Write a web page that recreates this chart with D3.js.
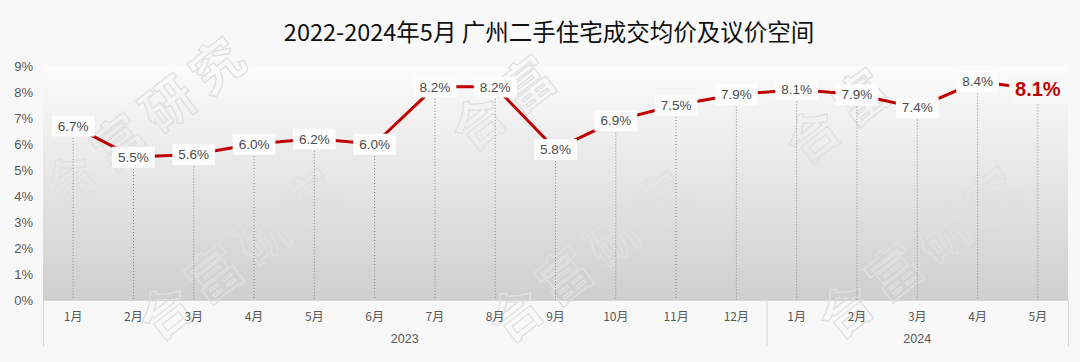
<!DOCTYPE html>
<html lang="zh">
<head>
<meta charset="UTF-8">
<title>广州二手住宅成交均价及议价空间</title>
<script src="https://d3js.org/d3.v7.min.js"></script>
<style>
    body { margin: 0; background: #f8f8f8; font-family: "Noto Sans CJK SC", "Liberation Sans", sans-serif; }
    svg { display: block; }
</style>
</head>
<body>
<svg id="chart" width="1080" height="362"></svg>
<script>
// data
var months = ["1月","2月","3月","4月","5月","6月","7月","8月","9月","10月","11月","12月","1月","2月","3月","4月","5月"];
var years = ["2023","2023","2023","2023","2023","2023","2023","2023","2023","2023","2023","2023","2024","2024","2024","2024","2024"];
var values = [6.7, 5.5, 5.6, 6.0, 6.2, 6.0, 8.2, 8.2, 5.8, 6.9, 7.5, 7.9, 8.1, 7.9, 7.4, 8.4, 8.1];
var yTicks = [0,1,2,3,4,5,6,7,8,9];
var title = "2022-2024年5月  广州二手住宅成交均价及议价空间";
var watermark = "合富研究";

var svg = d3.select("#chart");
var margin = { top: 66, right: 12, bottom: 62, left: 43 },
    width = 1080 - margin.left - margin.right,
    height = 362 - margin.top - margin.bottom;

var idx = d3.range(values.length);
var x = d3.scaleBand().domain(idx).range([0, width]);
var y = d3.scaleLinear().domain([0, 9]).range([height, 0]);
var cx = function(i) { return x(i) + x.bandwidth() / 2; };

var defs = svg.append("defs");
var grad = defs.append("linearGradient").attr("id", "fade")
    .attr("x1", 0).attr("y1", 0).attr("x2", 0).attr("y2", 1);
grad.append("stop").attr("offset", "0%").attr("stop-color", "#fbfbfb");
grad.append("stop").attr("offset", "100%").attr("stop-color", "#cfcfcf");

svg.append("text")
    .attr("x", 549).attr("y", 41)
    .attr("text-anchor", "middle")
    .attr("font-size", 23.5)
    .attr("fill", "#111")
    .text(title);

// plot background
var bg = svg.append("g").attr("transform", "translate(" + margin.left + "," + margin.top + ")");
bg.append("rect")
    .attr("x", 0).attr("y", 0)
    .attr("width", width).attr("height", height)
    .attr("fill", "url(#fade)");

// watermark, positioned by centre of the first glyph (page coords)
var wm = svg.append("g").attr("fill", "none").attr("stroke", "#e0e0e0").attr("stroke-width", 1.3)
    .attr("font-size", 52).attr("font-weight", "bold").attr("letter-spacing", 10);
[[70, 180, 4], [165, 312, 4], [478, 122, 2], [515, 314, 4], [812, 135, 2], [845, 310, 4]].forEach(function(p) {
    wm.append("text")
        .attr("transform", "translate(" + p[0] + "," + p[1] + ") rotate(-38)")
        .attr("x", -26).attr("dy", "0.38em")
        .text(watermark.slice(0, p[2]));
});

var marks = svg.append("g").attr("transform", "translate(" + margin.left + "," + margin.top + ")");

// drop lines
marks.selectAll(".drop").data(idx).enter().append("line")
    .attr("x1", cx).attr("x2", cx)
    .attr("y1", function(i) { return y(values[i]); })
    .attr("y2", height)
    .attr("stroke", "#8a8a8a").attr("stroke-width", 1).attr("stroke-dasharray", "1,2");

// line
marks.append("path")
    .datum(idx)
    .attr("fill", "none")
    .attr("stroke", "#c00000")
    .attr("stroke-width", 3)
    .attr("d", d3.line().x(cx).y(function(i) { return y(values[i]); }));

// y axis labels
marks.selectAll(".ytick").data(yTicks).enter().append("text")
    .attr("x", -10).attr("y", function(d) { return y(d); })
    .attr("dy", "0.35em")
    .attr("text-anchor", "end")
    .attr("font-size", 13)
    .attr("fill", "#595959")
    .attr("font-family", "Liberation Sans, sans-serif")
    .text(function(d) { return d + "%"; });

// bottom axis frame
var ax = marks.append("g").attr("stroke", "#d6d6d6").attr("stroke-width", 1);
ax.append("line").attr("x1", 0).attr("x2", width).attr("y1", height + 0.5).attr("y2", height + 0.5);
var yearStarts = idx.filter(function(i) { return i === 0 || years[i] !== years[i - 1]; });
yearStarts.concat([values.length]).forEach(function(i) {
    var xx = i < values.length ? x(i) : width;
    ax.append("line").attr("x1", xx + 0.5).attr("x2", xx + 0.5).attr("y1", height).attr("y2", height + 46);
});

marks.selectAll(".mlab").data(idx).enter().append("text")
    .attr("x", cx).attr("y", height + 21)
    .attr("text-anchor", "middle")
    .attr("font-size", 12)
    .attr("fill", "#595959")
    .text(function(i) { return months[i]; });

var yearGroups = d3.groups(idx, function(i) { return years[i]; });
yearGroups.forEach(function(gp) {
    var first = gp[1][0], last = gp[1][gp[1].length - 1];
    marks.append("text")
        .attr("x", (x(first) + x(last) + x.bandwidth()) / 2)
        .attr("y", height + 43)
        .attr("text-anchor", "middle")
        .attr("font-size", 12.5)
        .attr("fill", "#595959")
        .attr("font-family", "Liberation Sans, sans-serif")
        .text(gp[0]);
});

// data labels with white boxes
var labels = marks.selectAll(".dl").data(idx).enter().append("g")
    .attr("transform", function(i) { return "translate(" + cx(i) + "," + y(values[i]) + ")"; });
labels.each(function(i) {
    var sel = d3.select(this);
    var isLast = i === values.length - 1;
    var txt = sel.append("text")
        .attr("text-anchor", "middle")
        .attr("dy", "0.35em")
        .attr("font-size", isLast ? 20 : 13.5)
        .attr("font-weight", isLast ? "bold" : "normal")
        .attr("fill", isLast ? "#c00000" : "#4d4d4d")
        .attr("font-family", "Liberation Sans, sans-serif")
        .text(values[i].toFixed(1) + "%");
    var bb = txt.node().getBBox();
    sel.insert("rect", "text")
        .attr("x", bb.x - 6).attr("y", bb.y - 3)
        .attr("width", bb.width + 12).attr("height", bb.height + 6)
        .attr("fill", isLast ? "#f8f8f8" : "#fcfcfc");
});
</script>
</body>
</html>
